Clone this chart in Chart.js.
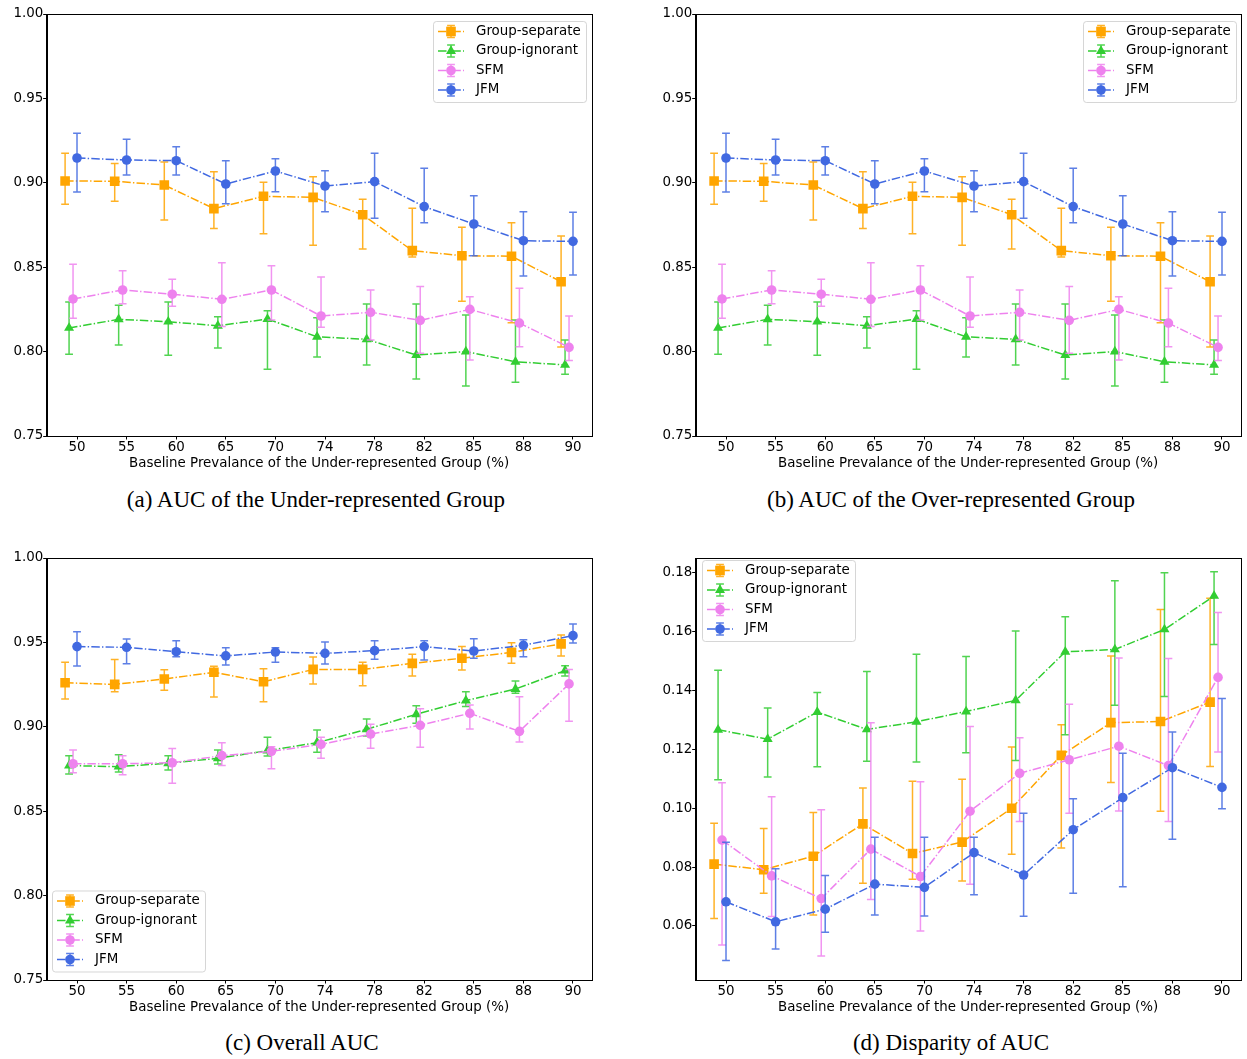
<!DOCTYPE html>
<html>
<head>
<meta charset="utf-8">
<script src="https://cdn.jsdelivr.net/npm/chart.js@4.4.1/dist/chart.umd.min.js"></script>
<style>
  body { margin: 0; background: #fff; width: 1247px; height: 1059px; position: relative; overflow: hidden; }
  canvas { position: absolute; }
  .caption { position: absolute; width: 600px; text-align: center; font-family: 'Liberation Serif', serif; font-size: 23px; line-height: 24px; color: #000; white-space: nowrap; }
</style>
</head>
<body>
<canvas id="panelA" width="620" height="480" style="left:0;top:0"></canvas>
<canvas id="panelB" width="620" height="480" style="left:649px;top:0"></canvas>
<canvas id="panelC" width="620" height="480" style="left:0;top:544px"></canvas>
<canvas id="panelD" width="620" height="480" style="left:649px;top:544px"></canvas>
<div class="caption" style="left:16px;top:488px">(a) AUC of the Under-represented Group</div>
<div class="caption" style="left:651px;top:488px">(b) AUC of the Over-represented Group</div>
<div class="caption" style="left:2px;top:1031px">(c) Overall AUC</div>
<div class="caption" style="left:651px;top:1031px">(d) Disparity of AUC</div>
<script>
const prevalence = ['50', '55', '60', '65', '70', '74', '78', '82', '85', '88', '90'];
const seriesNames = ['Group-separate', 'Group-ignorant', 'SFM', 'JFM'];

// (a) AUC, under-represented group: mean, lower and upper end of the error bar
const underSep = [0.9011, 0.9009, 0.8987, 0.8847, 0.892, 0.8914, 0.8811, 0.8598, 0.8568, 0.8565, 0.8414];
const underSepLo = [0.8873, 0.889, 0.878, 0.873, 0.8698, 0.863, 0.8608, 0.856, 0.8298, 0.8171, 0.8027];
const underSepHi = [0.9175, 0.9115, 0.9123, 0.9066, 0.9003, 0.9036, 0.8902, 0.8849, 0.8736, 0.8764, 0.8685];
const underIgn = [0.814, 0.8191, 0.8177, 0.8153, 0.8193, 0.8088, 0.8073, 0.798, 0.800, 0.794, 0.7921];
const underIgnLo = [0.7984, 0.8039, 0.7978, 0.8021, 0.7895, 0.7968, 0.792, 0.7838, 0.7796, 0.7818, 0.7866];
const underIgnHi = [0.8294, 0.8274, 0.8294, 0.8207, 0.8242, 0.8201, 0.8282, 0.8282, 0.8217, 0.8187, 0.8069];
const underSfm = [0.8312, 0.8365, 0.834, 0.831, 0.8365, 0.8211, 0.8233, 0.8185, 0.825, 0.8169, 0.8025];
const underSfmLo = [0.8197, 0.8284, 0.8268, 0.8148, 0.8187, 0.8144, 0.8069, 0.799, 0.795, 0.8029, 0.7948];
const underSfmHi = [0.8517, 0.8479, 0.8428, 0.8527, 0.8509, 0.8442, 0.8365, 0.8385, 0.8325, 0.8375, 0.8211];
const underJfm = [0.9147, 0.9135, 0.9131, 0.8993, 0.907, 0.8981, 0.9007, 0.8859, 0.8756, 0.8657, 0.8653];
const underJfmLo = [0.8945, 0.9046, 0.9046, 0.8876, 0.8947, 0.8829, 0.879, 0.8764, 0.8568, 0.8448, 0.8454];
const underJfmHi = [0.9293, 0.9258, 0.9214, 0.9131, 0.9143, 0.9072, 0.9175, 0.9086, 0.8924, 0.8829, 0.8825];

// (b) AUC, over-represented group
const overSep = [0.9011, 0.9009, 0.8987, 0.8847, 0.892, 0.8914, 0.8811, 0.8598, 0.8568, 0.8565, 0.8414];
const overSepLo = [0.8873, 0.889, 0.878, 0.873, 0.8698, 0.863, 0.8608, 0.856, 0.8298, 0.8171, 0.8027];
const overSepHi = [0.9175, 0.9115, 0.9123, 0.9066, 0.9003, 0.9036, 0.8902, 0.8849, 0.8736, 0.8764, 0.8685];
const overIgn = [0.814, 0.8191, 0.8177, 0.8153, 0.8193, 0.8088, 0.8073, 0.798, 0.800, 0.794, 0.7921];
const overIgnLo = [0.7984, 0.8039, 0.7978, 0.8021, 0.7895, 0.7968, 0.792, 0.7838, 0.7796, 0.7818, 0.7866];
const overIgnHi = [0.8294, 0.8274, 0.8294, 0.8207, 0.8242, 0.8201, 0.8282, 0.8282, 0.8217, 0.8187, 0.8069];
const overSfm = [0.8312, 0.8365, 0.834, 0.831, 0.8365, 0.8211, 0.8233, 0.8185, 0.825, 0.8169, 0.8025];
const overSfmLo = [0.8197, 0.8284, 0.8268, 0.8148, 0.8187, 0.8144, 0.8069, 0.799, 0.795, 0.8029, 0.7948];
const overSfmHi = [0.8517, 0.8479, 0.8428, 0.8527, 0.8509, 0.8442, 0.8365, 0.8385, 0.8325, 0.8375, 0.8211];
const overJfm = [0.9147, 0.9135, 0.9131, 0.8993, 0.907, 0.8981, 0.9007, 0.8859, 0.8756, 0.8657, 0.8653];
const overJfmLo = [0.8945, 0.9046, 0.9046, 0.8876, 0.8947, 0.8829, 0.879, 0.8764, 0.8568, 0.8448, 0.8454];
const overJfmHi = [0.9293, 0.9258, 0.9214, 0.9131, 0.9143, 0.9072, 0.9175, 0.9086, 0.8924, 0.8829, 0.8825];

// (c) overall AUC
const allSep = [0.9261, 0.9251, 0.9283, 0.9323, 0.9267, 0.934, 0.934, 0.9376, 0.9406, 0.9441, 0.9491];
const allSepLo = [0.9165, 0.9208, 0.9216, 0.9177, 0.9149, 0.9253, 0.9243, 0.9301, 0.9336, 0.9376, 0.942];
const allSepHi = [0.9382, 0.9398, 0.9338, 0.9358, 0.9344, 0.9413, 0.9382, 0.943, 0.9475, 0.9498, 0.9544];
const allIgn = [0.877, 0.8764, 0.8784, 0.8813, 0.8859, 0.8906, 0.8985, 0.9074, 0.9155, 0.9224, 0.9333];
const allIgnLo = [0.872, 0.8732, 0.8744, 0.878, 0.8827, 0.8849, 0.8945, 0.9021, 0.912, 0.9199, 0.9301];
const allIgnHi = [0.8829, 0.8835, 0.8829, 0.8863, 0.8938, 0.8981, 0.9046, 0.9125, 0.9208, 0.9271, 0.9361];
const allSfm = [0.8781, 0.8781, 0.8787, 0.8829, 0.8855, 0.8896, 0.8957, 0.9009, 0.908, 0.8973, 0.9254];
const allSfmLo = [0.8728, 0.8716, 0.8665, 0.877, 0.8752, 0.8813, 0.8873, 0.8879, 0.8987, 0.891, 0.9033];
const allSfmHi = [0.8863, 0.8829, 0.8871, 0.8906, 0.8882, 0.8938, 0.9015, 0.9107, 0.9129, 0.9178, 0.934];
const allJfm = [0.9475, 0.9471, 0.9445, 0.942, 0.9443, 0.9435, 0.9451, 0.9475, 0.9449, 0.9483, 0.954];
const allJfmLo = [0.936, 0.9374, 0.9415, 0.9366, 0.9382, 0.9372, 0.94, 0.9396, 0.9406, 0.9415, 0.9496];
const allJfmHi = [0.9563, 0.952, 0.951, 0.9469, 0.9469, 0.9502, 0.951, 0.951, 0.9522, 0.9516, 0.9609];

// (d) disparity of AUC
const gapSep = [0.081, 0.0791, 0.0837, 0.0947, 0.0846, 0.0885, 0.100, 0.118, 0.1291, 0.1295, 0.1361];
const gapSepLo = [0.0625, 0.0711, 0.0637, 0.0745, 0.0759, 0.0753, 0.0844, 0.0865, 0.1088, 0.099, 0.1142];
const gapSepHi = [0.0949, 0.0931, 0.0986, 0.1069, 0.1092, 0.1099, 0.1208, 0.1284, 0.1518, 0.1676, 0.1714];
const gapIgn = [0.1267, 0.1235, 0.1327, 0.1268, 0.1294, 0.1329, 0.1367, 0.1532, 0.154, 0.1608, 0.1722];
const gapIgnLo = [0.1097, 0.1106, 0.1141, 0.116, 0.1157, 0.1189, 0.1162, 0.125, 0.135, 0.138, 0.1557];
const gapIgnHi = [0.1469, 0.1341, 0.1394, 0.1465, 0.1524, 0.1516, 0.1603, 0.1651, 0.1774, 0.1801, 0.1804];
const gapSfm = [0.0892, 0.077, 0.0693, 0.0861, 0.0768, 0.099, 0.1119, 0.1165, 0.1211, 0.1145, 0.1445];
const gapSfmLo = [0.0535, 0.0632, 0.0498, 0.069, 0.0583, 0.0742, 0.0955, 0.0983, 0.0991, 0.0955, 0.1191];
const gapSfmHi = [0.1087, 0.1039, 0.0995, 0.1291, 0.109, 0.1278, 0.124, 0.1354, 0.1511, 0.1509, 0.1666];
const gapJfm = [0.0682, 0.0614, 0.0657, 0.0742, 0.0731, 0.0849, 0.0773, 0.0927, 0.1036, 0.1138, 0.1071];
const gapJfmLo = [0.0482, 0.0521, 0.0578, 0.0637, 0.0634, 0.0706, 0.0633, 0.0711, 0.0733, 0.0895, 0.0998];
const gapJfmHi = [0.0884, 0.0794, 0.0771, 0.0901, 0.0901, 0.0901, 0.0983, 0.1032, 0.1187, 0.1259, 0.1373];

const aucTicks = [0.75, 0.80, 0.85, 0.90, 0.95, 1.00];
const gapTicks = [0.06, 0.08, 0.10, 0.12, 0.14, 0.16, 0.18];

// per-series look, same order as seriesNames
const colors = ['#ffa500', '#32cd32', '#ee82ee', '#4169e1'];
const markers = ['rect', 'triangle', 'circle', 'circle'];
const markerSize = [6.8, 5.8, 4.8, 4.8];
const dodge = [-0.24, -0.16, -0.08, 0];
const dashDot = [8.5, 2.2, 1.4, 2.2];
const lineW = 1.5;
const capHalf = 3.9;

Chart.defaults.font.family = "'DejaVu Sans', sans-serif";
Chart.defaults.font.size = 13.4;
Chart.defaults.color = '#000';

function drawMarker(ctx, style, r, x, y) {
  ctx.beginPath();
  if (style === 'rect') {
    const s = r * Math.SQRT1_2;
    ctx.rect(x - s, y - s, 2 * s, 2 * s);
  } else if (style === 'triangle') {
    let a = 0;
    for (let k = 0; k < 3; k++) {
      const px = x + Math.sin(a) * r, py = y - Math.cos(a) * r;
      k === 0 ? ctx.moveTo(px, py) : ctx.lineTo(px, py);
      a += Math.PI * 2 / 3;
    }
    ctx.closePath();
  } else {
    ctx.arc(x, y, r, 0, Math.PI * 2);
  }
  ctx.fill();
}

function strokeErrorBar(ctx, x, top, bottom) {
  ctx.beginPath();
  ctx.moveTo(x, top); ctx.lineTo(x, bottom);
  ctx.moveTo(x - capHalf, top); ctx.lineTo(x + capHalf, top);
  ctx.moveTo(x - capHalf, bottom); ctx.lineTo(x + capHalf, bottom);
  ctx.stroke();
}

// vertical error bars, drawn just under each series' line and markers
const errorBars = {
  id: 'errorBars',
  beforeDatasetDraw(chart, args) {
    const ds = chart.data.datasets[args.index];
    const yScale = chart.scales.y;
    const ctx = chart.ctx;
    ctx.save();
    ctx.strokeStyle = ds.borderColor;
    ctx.globalAlpha = 0.85;
    ctx.lineWidth = lineW;
    args.meta.data.forEach((pt, i) => {
      strokeErrorBar(ctx, pt.x, yScale.getPixelForValue(ds.errHigh[i]), yScale.getPixelForValue(ds.errLow[i]));
    });
    ctx.restore();
  }
};

// box around the plot plus a framed legend inside it
const frameAndLegend = {
  id: 'frameAndLegend',
  afterDraw(chart, args, opts) {
    const ctx = chart.ctx;
    const a = chart.chartArea;
    ctx.save();
    ctx.strokeStyle = '#000';
    ctx.lineWidth = 1;
    ctx.strokeRect(Math.round(a.left) + 0.5, Math.round(a.top) + 0.5, Math.round(a.right - a.left), Math.round(a.bottom - a.top));

    const bx = opts.x, by = opts.y, bw = 153, bh = 81;
    ctx.beginPath();
    ctx.roundRect(bx + 0.5, by + 0.5, bw, bh, 3);
    ctx.fillStyle = 'rgba(255,255,255,0.8)';
    ctx.fill();
    ctx.strokeStyle = 'rgba(204,204,204,0.8)';
    ctx.stroke();

    chart.data.datasets.forEach((ds, k) => {
      const cy = by + 10.5 + 19.5 * k;
      const x0 = bx + 5, x1 = x0 + 26, cx = (x0 + x1) / 2;
      ctx.strokeStyle = ds.borderColor;
      ctx.lineWidth = ds.borderWidth;
      ctx.setLineDash(ds.borderDash);
      ctx.beginPath();
      ctx.moveTo(x0, cy); ctx.lineTo(x1, cy);
      ctx.stroke();
      ctx.setLineDash([]);
      ctx.globalAlpha = 0.85;
      strokeErrorBar(ctx, cx, cy - 6, cy + 6);
      ctx.globalAlpha = 1;
      ctx.fillStyle = ds.borderColor;
      drawMarker(ctx, ds.pointStyle, ds.pointRadius, cx, cy);
      ctx.fillStyle = '#000';
      ctx.font = "13.4px 'DejaVu Sans'";
      ctx.textBaseline = 'middle';
      ctx.fillText(ds.label, bx + 43, cy);
    });
    ctx.restore();
  }
};

function makeDatasets(series) {
  return series.map(([mean, lo, hi], s) => ({
    label: seriesNames[s],
    data: mean.map((v, i) => ({ x: i + dodge[s], y: v })),
    errLow: lo,
    errHigh: hi,
    borderColor: colors[s],
    backgroundColor: colors[s],
    borderWidth: lineW,
    borderDash: dashDot,
    pointStyle: markers[s],
    pointRadius: markerSize[s],
    pointBorderWidth: 0,
    pointBackgroundColor: colors[s],
    tension: 0,
    order: 4 - s
  }));
}

function drawPanel(id, series, yMin, yMax, yTicks, legendAt) {
  new Chart(document.getElementById(id), {
    type: 'line',
    data: { datasets: makeDatasets(series) },
    plugins: [errorBars, frameAndLegend],
    options: {
      responsive: false,
      animation: false,
      events: [],
      layout: { padding: { left: 0, top: 14, right: 28.5, bottom: 8 } },
      plugins: {
        legend: { display: false },
        tooltip: { enabled: false },
        frameAndLegend: legendAt
      },
      scales: {
        x: {
          type: 'linear',
          min: -0.611,
          max: 10.373,
          afterBuildTicks: (scale) => { scale.ticks = prevalence.map((p, i) => ({ value: i })); },
          afterFit: (scale) => { scale.height = 36; },
          ticks: { padding: 0, maxRotation: 0, color: '#000', callback: (v) => prevalence[v] },
          grid: { drawOnChartArea: false, tickLength: 3.5, color: '#000' },
          border: { color: '#000', width: 1 },
          title: {
            display: true,
            text: 'Baseline Prevalance of the Under-represented Group (%)',
            padding: 0,
            color: '#000',
            font: { size: 13.4, lineHeight: 1.2 }
          }
        },
        y: {
          min: yMin,
          max: yMax,
          afterBuildTicks: (scale) => { scale.ticks = yTicks.map((v) => ({ value: v })); },
          afterFit: (scale) => { scale.width = 46.7; },
          ticks: { padding: 0, color: '#000', callback: (v) => v.toFixed(2) },
          grid: { drawOnChartArea: false, tickLength: 3.5, color: '#000' },
          border: { color: '#000', width: 1 }
        }
      }
    }
  });
}

drawPanel('panelA', [[underSep, underSepLo, underSepHi], [underIgn, underIgnLo, underIgnHi],
  [underSfm, underSfmLo, underSfmHi], [underJfm, underJfmLo, underJfmHi]], 0.75, 1.0, aucTicks, { x: 433, y: 21 });
drawPanel('panelB', [[overSep, overSepLo, overSepHi], [overIgn, overIgnLo, overIgnHi],
  [overSfm, overSfmLo, overSfmHi], [overJfm, overJfmLo, overJfmHi]], 0.75, 1.0, aucTicks, { x: 434, y: 21 });
drawPanel('panelC', [[allSep, allSepLo, allSepHi], [allIgn, allIgnLo, allIgnHi],
  [allSfm, allSfmLo, allSfmHi], [allJfm, allJfmLo, allJfmHi]], 0.75, 1.0, aucTicks, { x: 52, y: 346.5 });
drawPanel('panelD', [[gapSep, gapSepLo, gapSepHi], [gapIgn, gapIgnLo, gapIgnHi],
  [gapSfm, gapSfmLo, gapSfmHi], [gapJfm, gapJfmLo, gapJfmHi]], 0.0416, 0.1851, gapTicks, { x: 53, y: 16 });
</script>
</body>
</html>
